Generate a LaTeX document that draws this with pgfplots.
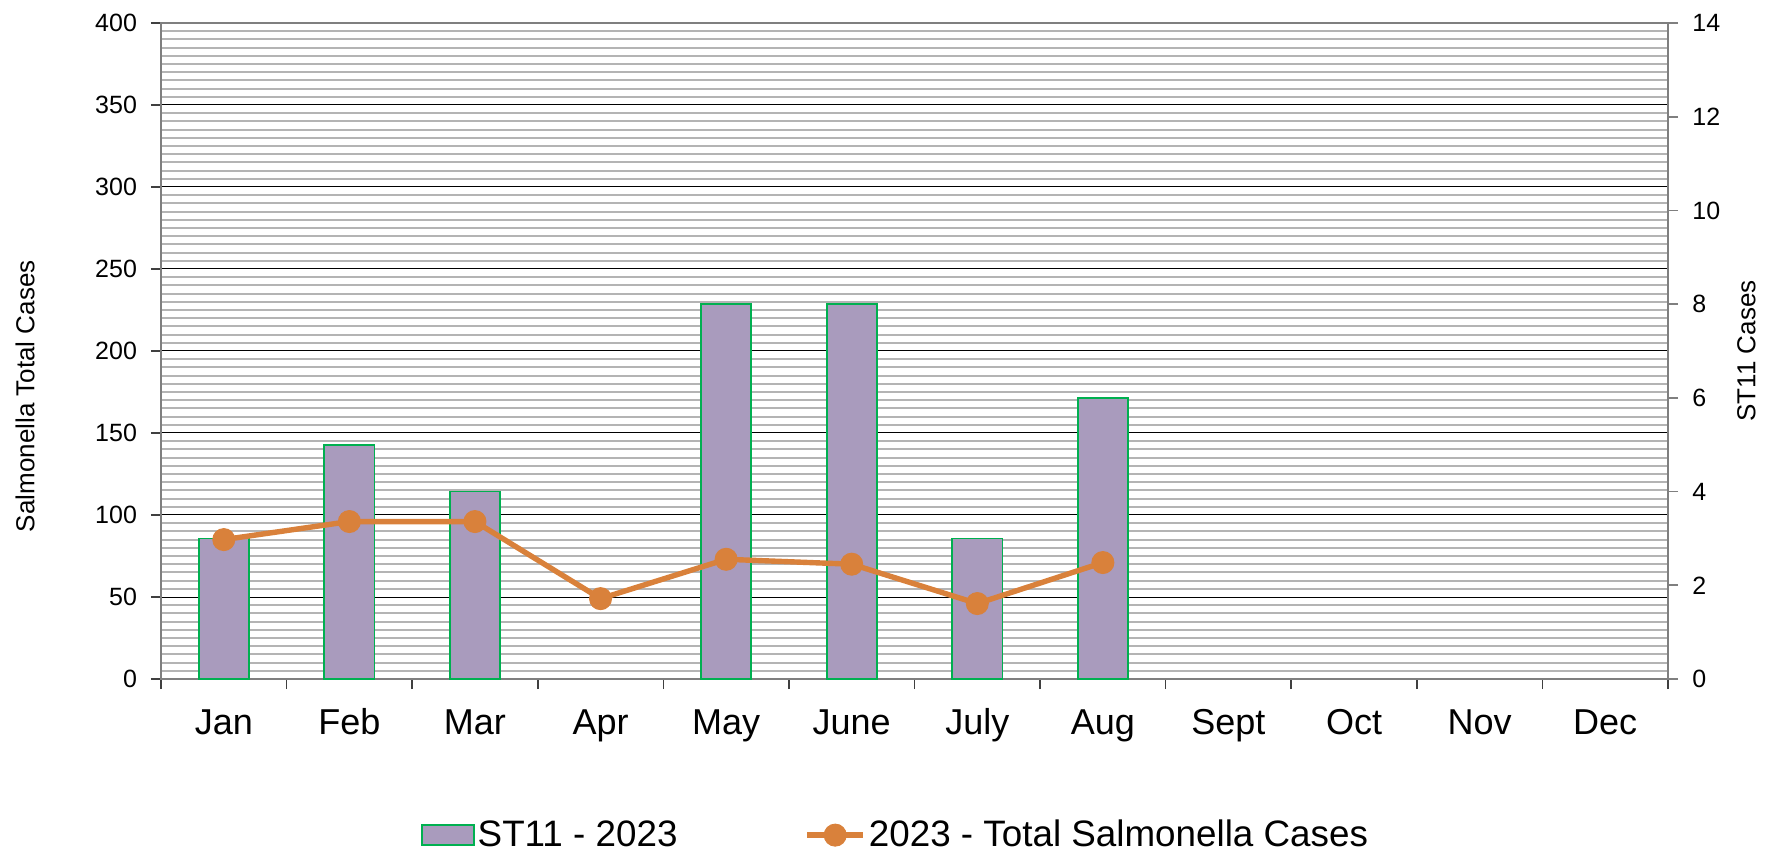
\documentclass[border=0pt]{standalone}
\usepackage{fontspec}
\setmainfont{Liberation Sans}
\usepackage{pgfplots}
\pgfplotsset{compat=1.18}
\definecolor{barfill}{HTML}{A99BBD}
\definecolor{baredge}{HTML}{00B050}
\definecolor{lineor}{HTML}{D9813B}
\definecolor{minorgrid}{HTML}{B4B4B4}
\definecolor{axisgray}{HTML}{7F7F7F}
\definecolor{axisdark}{HTML}{404040}
\pgfplotsset{mylinelegend/.style={legend image code/.code={\draw[mark repeat=2,mark phase=2,##1] plot coordinates {(0pt,0pt) (14pt,0pt) (28pt,0pt)};}},
  mybarlegend/.style={legend image code/.code={\draw[fill=barfill,draw=baredge,line width=0.9pt] (0pt,-5pt) rectangle (26pt,5pt);}}}
\begin{document}
\begin{tikzpicture}
\useasboundingbox (-80.5pt,-88.5pt) rectangle (807.5pt,339.5pt);
\pgfplotsset{common/.style={width=753.5pt,height=328pt,scale only axis,
  at={(0pt,0pt)}, anchor=south west, xmin=-0.5, xmax=11.5,
  /pgf/number format/assume math mode=true,
  tick label style={font=\fontsize{12.5}{14}\selectfont},
  label style={font=\fontsize{13}{15}\selectfont}}}
% Axis A: grid, left axis, months
\begin{axis}[common, ymin=0, ymax=400, ytick={0,50,...,400}, minor y tick num=9,
  ymajorgrids, yminorgrids,
  major grid style={black, line width=0.5pt},
  minor grid style={minorgrid, line width=1pt},
  xtick={-0.5,0.5,...,11.5},
  xticklabels={Jan,Feb,Mar,Apr,May,June,July,Aug,Sept,Oct,Nov,Dec},
  x tick label as interval,
  xtick pos=bottom, ytick pos=left, tick align=outside,
  major tick length=5pt, minor tick length=0pt,
  tick style={axisdark, line width=0.8pt},
  axis line style={axisgray, line width=1pt},
  xticklabel style={font=\fontsize{18}{20}\selectfont, anchor=base, yshift=-22.5pt},
  yticklabel style={xshift=-3.5pt},
  ylabel={Salmonella Total Cases},
  ylabel style={at={(rel axis cs:-0.0902,0.431)}, anchor=center}]
\addplot[draw=none] coordinates {(0,0)};
\end{axis}
% Axis B: bars, right axis
\begin{axis}[common, ymin=0, ymax=14, ytick={0,2,...,14},
  axis y line*=right, axis x line=none, tick align=outside,
  major tick length=5pt, tick style={axisgray, line width=0.8pt},
  axis line style={axisgray, line width=1pt},
  yticklabel style={xshift=3.7pt},
  ylabel={ST11 Cases},
  ylabel style={at={(rel axis cs:1.052,0.5)}, anchor=center}]
\addplot[ybar, bar width=0.4, fill=barfill, draw=baredge, line width=0.9pt]
  coordinates {(0,3) (1,5) (2,4) (4,8) (5,8) (6,3) (7,6)};
\end{axis}
% Axis C: line, legend
\begin{axis}[common, ymin=0, ymax=400, hide axis,
  legend columns=2,
  legend style={draw=none, fill=none, at={(0.4877,-0.238)}, anchor=center,
    font=\fontsize{18.4}{20}\selectfont,
    /tikz/every even column/.append style={column sep=62pt},
    nodes={inner sep=1.5pt}}]
\addlegendimage{mybarlegend}
\addlegendentry{ST11 - 2023}
\addplot[lineor, line width=2.7pt, mark=*, mark size=5.5pt,
  mark options={fill=lineor, draw=lineor, line width=0.5pt}, mylinelegend]
  coordinates {(0,85) (1,96) (2,96) (3,49) (4,73) (5,70) (6,46) (7,71)};
\addlegendentry{2023 - Total Salmonella Cases}
\end{axis}
\end{tikzpicture}
\end{document}
